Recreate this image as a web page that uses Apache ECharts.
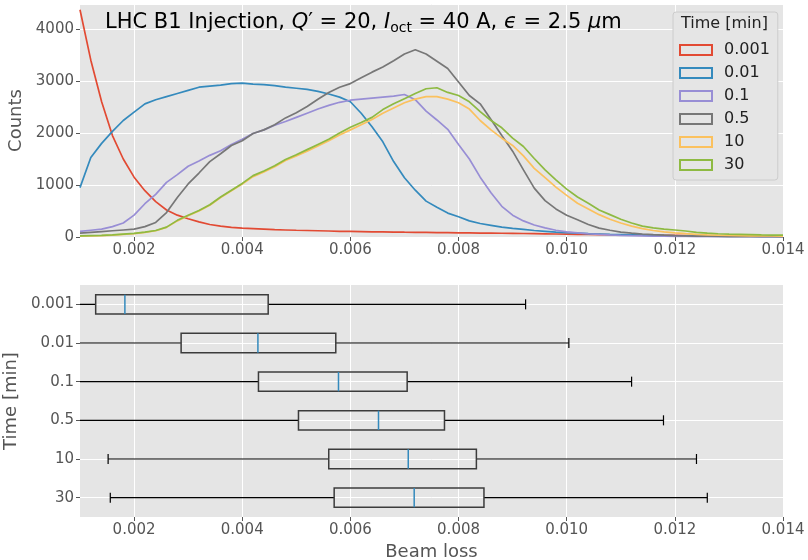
<!DOCTYPE html>
<html><head><meta charset="utf-8">
<script src="https://cdn.jsdelivr.net/npm/echarts@6/dist/echarts.min.js"></script>
<style>html,body{margin:0;padding:0;background:#fff}#c{width:808px;height:560px}</style>
</head><body><div id="c"></div>
<script>
// ---------- data ----------
const binCenters = [0.0010,0.0012,0.0014,0.0016,0.0018,0.0020,0.0022,0.0024,0.0026,0.0028,0.0030,0.0032,0.0034,0.0036,0.0038,0.0040,0.0042,0.0044,0.0046,0.0048,0.0050,0.0052,0.0054,0.0056,0.0058,0.0060,0.0062,0.0064,0.0066,0.0068,0.0070,0.0072,0.0074,0.0076,0.0078,0.0080,0.0082,0.0084,0.0086,0.0088,0.0090,0.0092,0.0094,0.0096,0.0098,0.0100,0.0102,0.0104,0.0106,0.0108,0.0110,0.0112,0.0114,0.0116,0.0118,0.0120,0.0122,0.0124,0.0126,0.0128,0.0130,0.0132,0.0134,0.0136,0.0138,0.0140];
const counts_0001 = [4370,3400,2600,1950,1500,1150,890,680,520,420,350,290,240,210,185,170,160,150,140,135,130,125,120,115,110,108,105,100,98,95,92,90,88,85,83,80,78,76,74,72,70,67,64,61,58,55,52,49,46,43,40,38,36,34,32,30,28,26,24,22,20,18,17,16,15,14];
const counts_001 = [950,1530,1800,2030,2240,2400,2560,2640,2700,2760,2820,2880,2900,2920,2950,2960,2940,2930,2910,2880,2860,2840,2800,2750,2690,2600,2380,2120,1830,1450,1140,900,690,570,460,390,310,260,225,190,165,145,125,110,95,85,75,65,58,50,45,40,35,30,27,24,21,18,16,14,12,11,10,9,8,7];
const counts_01 = [110,130,150,200,270,420,640,820,1050,1200,1360,1460,1570,1660,1780,1880,1990,2060,2150,2220,2300,2380,2460,2530,2590,2630,2650,2670,2690,2710,2740,2640,2420,2250,2070,1780,1500,1150,850,590,420,310,230,175,130,100,80,62,50,40,33,27,22,18,15,12,10,9,8,7,6,5,5,4,4,3];
const counts_05 = [75,90,105,120,135,150,200,280,470,760,1020,1230,1450,1600,1760,1850,1990,2060,2160,2290,2390,2510,2650,2780,2880,2950,3060,3170,3270,3390,3520,3600,3520,3380,3240,2980,2720,2560,2260,1950,1650,1290,940,700,540,420,330,240,170,130,95,75,58,46,36,28,22,18,14,11,9,8,7,6,5,4];
const counts_10 = [15,20,25,35,50,65,90,120,185,310,410,500,610,760,890,1020,1160,1250,1350,1470,1560,1650,1750,1850,1960,2060,2160,2260,2380,2480,2580,2650,2700,2700,2650,2580,2460,2240,2060,1900,1760,1560,1320,1140,960,800,650,540,430,340,270,210,160,125,100,80,65,52,42,35,30,26,23,21,19,18];
const counts_30 = [20,25,30,40,55,70,95,125,190,320,420,510,620,770,900,1030,1180,1270,1370,1490,1580,1680,1780,1880,2000,2110,2200,2300,2450,2560,2660,2760,2850,2870,2780,2720,2600,2410,2240,2100,1900,1740,1510,1290,1100,920,770,650,520,430,340,270,210,175,150,135,115,90,75,62,55,50,45,40,37,35];

const timeLabels = ['0.001','0.01','0.1','0.5','10','30'];
const whiskerLow  = [0.0004, 0.0006, 0.0008, 0.0009, 0.00152, 0.00156];
const quart1      = [0.00129, 0.00287, 0.00430, 0.00504, 0.00560, 0.00570];
const medians     = [0.00183, 0.00429, 0.00578, 0.00652, 0.00707, 0.00718];
const quart3      = [0.00448, 0.00573, 0.00705, 0.00774, 0.00833, 0.00847];
const whiskerHigh = [0.00924, 0.01004, 0.01120, 0.01179, 0.01240, 0.01260];

const xTickValues = [0.002,0.004,0.006,0.008,0.010,0.012,0.014];

// ---------- chart ----------
const FONT = 'DejaVu Sans';
const colors = ['#E24A33','#348ABD','#988ED5','#777777','#FBC15E','#8EBA42'];
const seriesCounts = [counts_0001, counts_001, counts_01, counts_05, counts_10, counts_30];

const chart = echarts.init(document.getElementById('c'), null, {renderer:'canvas'});

function xAxisCfg(gridIndex, name) {
  return {
    type:'value', gridIndex, min:0.001, max:0.014,
    axisLine:{show:false},
    axisTick:{show:true, customValues:xTickValues, length:4, lineStyle:{color:'#555'}},
    axisLabel:{customValues:xTickValues, color:'#555', fontSize:15, fontFamily:FONT, margin:6,
      formatter: v => v.toFixed(3)},
    splitLine:{show:true, lineStyle:{color:'#fff', width:1}},
    name: name || '', nameLocation:'middle', nameGap:26,
    nameTextStyle:{color:'#555', fontSize:18, fontFamily:FONT}
  };
}

const lineSeries = seriesCounts.map((arr, i) => ({
  type:'line', name: timeLabels[i], xAxisIndex:0, yAxisIndex:0,
  data: binCenters.map((x, k) => [x, arr[k]]),
  showSymbol:false, symbol:'none', smooth:false,
  lineStyle:{color:colors[i], width:1.7},
  itemStyle:{color:colors[i]},
  z: 2 + i, silent:true
}));

const boxData = timeLabels.map((t, i) => [i + 1, whiskerLow[i], quart1[i], medians[i], quart3[i], whiskerHigh[i]]);

const boxSeries = {
  type:'custom', xAxisIndex:1, yAxisIndex:1, clip:true,
  encode:{x:[1,2,3,4,5], y:0},
  data: boxData,
  renderItem(params, api) {
    const y = api.value(0);
    const pLo = api.coord([api.value(1), y]);
    const pQ1 = api.coord([api.value(2), y]);
    const pMd = api.coord([api.value(3), y]);
    const pQ3 = api.coord([api.value(4), y]);
    const pHi = api.coord([api.value(5), y]);
    const band = Math.abs(api.size([0, 1])[1]);
    const h = band * 0.5, cap = band * 0.26;
    const cy = pQ1[1];
    const wStyle = {stroke:'#000', lineWidth:1.2, fill:null};
    return {type:'group', children:[
      {type:'line', shape:{x1:pLo[0], y1:cy, x2:pQ1[0], y2:cy}, style:wStyle},
      {type:'line', shape:{x1:pQ3[0], y1:cy, x2:pHi[0], y2:cy}, style:wStyle},
      {type:'line', shape:{x1:pLo[0], y1:cy-cap/2, x2:pLo[0], y2:cy+cap/2}, style:wStyle},
      {type:'line', shape:{x1:pHi[0], y1:cy-cap/2, x2:pHi[0], y2:cy+cap/2}, style:wStyle},
      {type:'rect', shape:{x:pQ1[0], y:cy-h/2, width:pQ3[0]-pQ1[0], height:h},
        style:{fill:'rgba(0,0,0,0)', stroke:'#3c3c3c', lineWidth:1.5}},
      {type:'line', shape:{x1:pMd[0], y1:cy-h/2, x2:pMd[0], y2:cy+h/2},
        style:{stroke:'#348ABD', lineWidth:1.5}}
    ]};
  }
};

const option = {
  backgroundColor:'#fff',
  animation:false,
  title:{
    text:'{n|LHC B1 Injection, }{i|Q}{n|′ = 20, }{i|I}{s|oct}{n| = 40 A, }{i|ϵ}{n| = 2.5 }{i|μ}{n|m}',
    left:100, top:6,
    textStyle:{
      fontWeight:'normal',
      rich:{
        n:{fontFamily:FONT, fontSize:21, fontWeight:'normal', color:'#000'},
        i:{fontFamily:FONT, fontSize:21, fontWeight:'normal', fontStyle:'italic', color:'#000'},
        s:{fontFamily:FONT, fontSize:14, fontWeight:'normal', color:'#000', padding:[10,0,0,0]}
      }
    }
  },
  graphic:[{
    type:'text', left:681, top:16, z:100,
    style:{text:'Time [min]', fontFamily:FONT, fontSize:16, fill:'#222'}
  }],
  legend:{
    orient:'vertical', left:673, top:12,
    data: timeLabels.map((n, i) => ({name:n, itemStyle:{color:'rgba(0,0,0,0)', borderColor:colors[i], borderWidth:2}})),
    icon:'rect', itemWidth:32, itemHeight:10, itemGap:5,
    padding:[29,8,6,6],
    backgroundColor:'#e5e5e5', borderColor:'#cccccc', borderWidth:1, borderRadius:3,
    textStyle:{fontFamily:FONT, fontSize:16, color:'#222', lineHeight:18, padding:[0,0,0,7]},
    selectedMode:false, z:50
  },
  grid:[
    {left:80, right:25, top:4, height:233, show:true, backgroundColor:'#E5E5E5', borderWidth:0, outerBoundsMode:'none', containLabel:false},
    {left:80, right:25, top:285, height:232, show:true, backgroundColor:'#E5E5E5', borderWidth:0, outerBoundsMode:'none', containLabel:false}
  ],
  xAxis:[ xAxisCfg(0, ''), xAxisCfg(1, 'Beam loss') ],
  yAxis:[
    {type:'value', gridIndex:0, min:0, max:4480, interval:1000,
     axisLine:{show:false}, axisTick:{show:true, length:4, lineStyle:{color:'#555'}},
     axisLabel:{color:'#555', fontSize:15, fontFamily:FONT, margin:6, showMaxLabel:false,
       formatter: v => String(v)},
     splitLine:{show:true, lineStyle:{color:'#fff', width:1}},
     name:'Counts', nameLocation:'middle', nameGap:54,
     nameTextStyle:{color:'#555', fontSize:18, fontFamily:FONT}},
    {type:'value', gridIndex:1, min:0.5, max:6.5, inverse:true,
     axisLine:{show:false},
     axisTick:{show:true, length:4, customValues:[1,2,3,4,5,6], lineStyle:{color:'#555'}},
     axisLabel:{customValues:[1,2,3,4,5,6], color:'#555', fontSize:15, fontFamily:FONT, margin:6,
       formatter: v => timeLabels[Math.round(v) - 1] || ''},
     splitLine:{show:true, lineStyle:{color:'#fff', width:1}},
     name:'Time [min]', nameLocation:'middle', nameGap:58,
     nameTextStyle:{color:'#555', fontSize:18, fontFamily:FONT}}
  ],
  series: [...lineSeries, boxSeries]
};
chart.setOption(option);
</script>
</body></html>
